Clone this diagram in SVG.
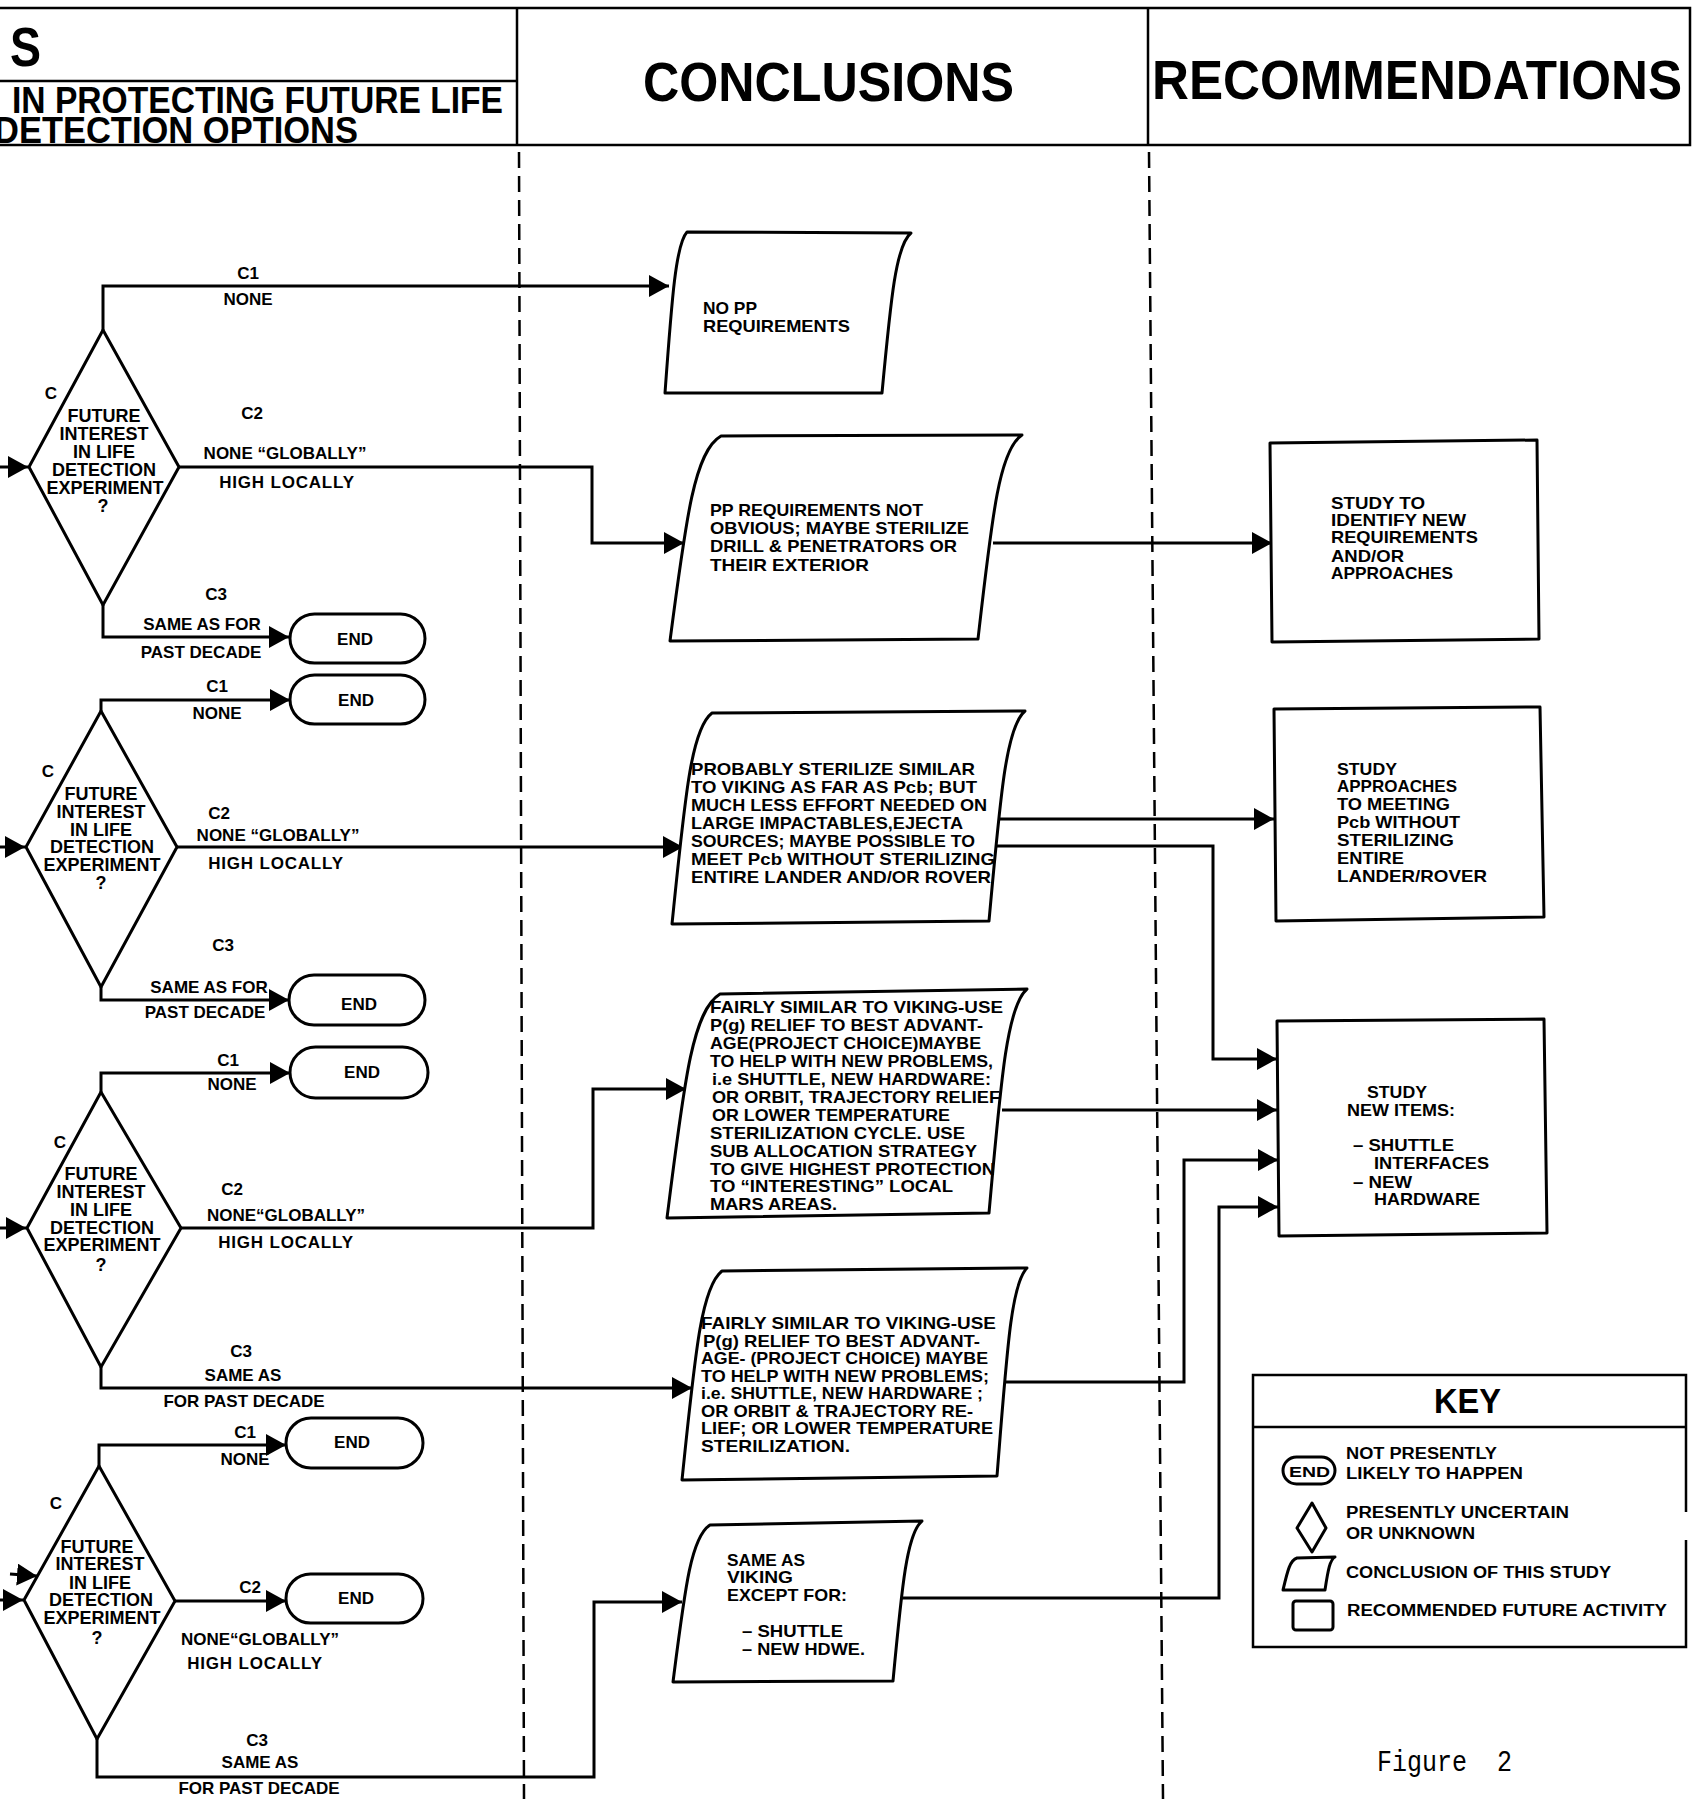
<svg xmlns="http://www.w3.org/2000/svg" width="1696" height="1799" viewBox="0 0 1696 1799">
<defs>
<marker id="ah" markerUnits="userSpaceOnUse" markerWidth="20" markerHeight="22" refX="20" refY="11" orient="auto">
<path d="M0,0 L20,11 L0,22 Z" fill="#000"/>
</marker>
<style>
text{font-family:"Liberation Sans",Arial,sans-serif;font-weight:bold;fill:#000}
.hd{font-size:56px}
.sub{font-size:37px}
.dm{font-size:18px;text-anchor:middle}
.lb{font-size:17px;text-anchor:middle}
.bx{font-size:17px}
.ky{font-size:16px}
.end{font-size:17px;text-anchor:middle}
.shape{fill:#fff;stroke:#000;stroke-width:3;stroke-linejoin:round}
.conn{fill:none;stroke:#000;stroke-width:3;stroke-linejoin:miter}
.frame{fill:none;stroke:#000;stroke-width:2.5}
.dash{fill:none;stroke:#000;stroke-width:2.5;stroke-dasharray:16 8}
.fig{font-family:"Liberation Mono","Courier New",monospace;font-weight:normal;font-size:30px}
</style>
</defs>
<rect width="1696" height="1799" fill="#fff"/>

<g id="header">
<path class="frame" d="M0,8 H1690 V145 H0 M517,8 V145 M1148,8 V145 M0,81 H517"/>
<text class="hd" x="10" y="66" font-size="60" textLength="31" lengthAdjust="spacingAndGlyphs">S</text>
<text class="sub" x="12" y="113" textLength="491" lengthAdjust="spacingAndGlyphs">IN PROTECTING FUTURE LIFE</text>
<text class="sub" x="-6" y="143" textLength="364" lengthAdjust="spacingAndGlyphs">DETECTION OPTIONS</text>
<text class="hd" x="643" y="101" textLength="371" lengthAdjust="spacingAndGlyphs">CONCLUSIONS</text>
<text class="hd" x="1152" y="99" textLength="530" lengthAdjust="spacingAndGlyphs">RECOMMENDATIONS</text>
</g>

<g id="columns">
<path class="dash" d="M519,152 L524,1799"/>
<path class="dash" d="M1149,152 L1163,1799"/>
</g>

<g id="connectors">
<path class="conn" d="M0,467 H28" marker-end="url(#ah)"/>
<path class="conn" d="M0,847 H25" marker-end="url(#ah)"/>
<path class="conn" d="M0,1228 H26" marker-end="url(#ah)"/>
<path class="conn" d="M0,1600 H23" marker-end="url(#ah)"/>
<path class="conn" d="M10,1574 L37,1576" marker-end="url(#ah)"/>

<path class="conn" d="M103,330 V286 H669" marker-end="url(#ah)"/>
<path class="conn" d="M179,467 H592 V543 H684" marker-end="url(#ah)"/>
<path class="conn" d="M103,605 V637 H289" marker-end="url(#ah)"/>

<path class="conn" d="M101,711 V700 H290" marker-end="url(#ah)"/>
<path class="conn" d="M177,847 H683" marker-end="url(#ah)"/>
<path class="conn" d="M101,987 V1000 H289" marker-end="url(#ah)"/>

<path class="conn" d="M101,1092 V1073 H290" marker-end="url(#ah)"/>
<path class="conn" d="M181,1228 H593 V1089 H686" marker-end="url(#ah)"/>
<path class="conn" d="M101,1367 V1388 H692" marker-end="url(#ah)"/>

<path class="conn" d="M99,1466 V1445 H286" marker-end="url(#ah)"/>
<path class="conn" d="M175,1601 H286" marker-end="url(#ah)"/>
<path class="conn" d="M97,1739 V1777 H594 V1602 H682" marker-end="url(#ah)"/>

<path class="conn" d="M993,543 H1272" marker-end="url(#ah)"/>
<path class="conn" d="M997,819 H1274" marker-end="url(#ah)"/>
<path class="conn" d="M997,846 H1213 V1059 H1277" marker-end="url(#ah)"/>
<path class="conn" d="M1002,1110 H1277" marker-end="url(#ah)"/>
<path class="conn" d="M1004,1382 H1184 V1160 H1278" marker-end="url(#ah)"/>
<path class="conn" d="M902,1598 H1219 V1207 H1278" marker-end="url(#ah)"/>
</g>

<g id="decision1">
<polygon class="shape" points="103,330 179,467 103,605 29,467"/>
<text class="lb" x="51" y="399">C</text>
<text class="dm" x="104" y="422">FUTURE</text>
<text class="dm" x="104" y="440">INTEREST</text>
<text class="dm" x="104" y="458">IN LIFE</text>
<text class="dm" x="104" y="476">DETECTION</text>
<text class="dm" x="105" y="494">EXPERIMENT</text>
<text class="dm" x="103" y="512">?</text>
<text class="lb" x="248" y="279">C1</text>
<text class="lb" x="248" y="305">NONE</text>
<text class="lb" x="252" y="419">C2</text>
<text class="lb" x="285" y="459">NONE “GLOBALLY”</text>
<text class="lb" x="287" y="488" letter-spacing="0.8">HIGH LOCALLY</text>
<text class="lb" x="216" y="600">C3</text>
<text class="lb" x="202" y="630">SAME AS FOR</text>
<text class="lb" x="201" y="658">PAST DECADE</text>
</g>

<g id="decision2">
<polygon class="shape" points="101,711 177,847 101,987 26,847"/>
<text class="lb" x="48" y="777">C</text>
<text class="dm" x="101" y="800">FUTURE</text>
<text class="dm" x="101" y="818">INTEREST</text>
<text class="dm" x="101" y="836">IN LIFE</text>
<text class="dm" x="102" y="853">DETECTION</text>
<text class="dm" x="102" y="871">EXPERIMENT</text>
<text class="dm" x="101" y="889">?</text>
<text class="lb" x="217" y="692">C1</text>
<text class="lb" x="217" y="719">NONE</text>
<text class="lb" x="219" y="819">C2</text>
<text class="lb" x="278" y="841">NONE “GLOBALLY”</text>
<text class="lb" x="276" y="869" letter-spacing="0.8">HIGH LOCALLY</text>
<text class="lb" x="223" y="951">C3</text>
<text class="lb" x="209" y="993">SAME AS FOR</text>
<text class="lb" x="205" y="1018">PAST DECADE</text>
</g>

<g id="decision3">
<polygon class="shape" points="101,1092 181,1228 101,1367 27,1228"/>
<text class="lb" x="60" y="1148">C</text>
<text class="dm" x="101" y="1180">FUTURE</text>
<text class="dm" x="101" y="1198">INTEREST</text>
<text class="dm" x="101" y="1216">IN LIFE</text>
<text class="dm" x="102" y="1234">DETECTION</text>
<text class="dm" x="102" y="1251">EXPERIMENT</text>
<text class="dm" x="101" y="1271">?</text>
<text class="lb" x="228" y="1066">C1</text>
<text class="lb" x="232" y="1090">NONE</text>
<text class="lb" x="232" y="1195">C2</text>
<text class="lb" x="286" y="1221">NONE“GLOBALLY”</text>
<text class="lb" x="286" y="1248" letter-spacing="0.8">HIGH LOCALLY</text>
<text class="lb" x="241" y="1357">C3</text>
<text class="lb" x="243" y="1381">SAME AS</text>
<text class="lb" x="244" y="1407">FOR PAST DECADE</text>
</g>

<g id="decision4">
<polygon class="shape" points="99,1466 175,1601 97,1739 24,1600"/>
<text class="lb" x="56" y="1509">C</text>
<text class="dm" x="97" y="1553">FUTURE</text>
<text class="dm" x="100" y="1570">INTEREST</text>
<text class="dm" x="100" y="1589">IN LIFE</text>
<text class="dm" x="101" y="1606">DETECTION</text>
<text class="dm" x="102" y="1624">EXPERIMENT</text>
<text class="dm" x="97" y="1644">?</text>
<text class="lb" x="245" y="1438">C1</text>
<text class="lb" x="245" y="1465">NONE</text>
<text class="lb" x="250" y="1593">C2</text>
<text class="lb" x="260" y="1645">NONE“GLOBALLY”</text>
<text class="lb" x="255" y="1669" letter-spacing="0.8">HIGH LOCALLY</text>
<text class="lb" x="257" y="1746">C3</text>
<text class="lb" x="260" y="1768">SAME AS</text>
<text class="lb" x="259" y="1794">FOR PAST DECADE</text>
</g>

<g id="end1"><rect class="shape" x="290" y="614" width="135" height="49" rx="24.5"/><text class="end" x="355" y="645">END</text></g>
<g id="end2"><rect class="shape" x="290" y="675" width="135" height="49" rx="24.5"/><text class="end" x="356" y="706">END</text></g>
<g id="end3"><rect class="shape" x="289" y="975" width="136" height="50" rx="25"/><text class="end" x="359" y="1010">END</text></g>
<g id="end4"><rect class="shape" x="290" y="1047" width="138" height="51" rx="25.5"/><text class="end" x="362" y="1078">END</text></g>
<g id="end5"><rect class="shape" x="286" y="1418" width="137" height="50" rx="25"/><text class="end" x="352" y="1448">END</text></g>
<g id="end6"><rect class="shape" x="286" y="1574" width="137" height="49" rx="24.5"/><text class="end" x="356" y="1604">END</text></g>

<g id="conclusionA">
<path class="shape" d="M665,393 C672,296 676,244 687,232 L911,233 C896,245 891,297 882,393 Z"/>
<text class="bx" x="703" y="314" textLength="54" lengthAdjust="spacingAndGlyphs">NO PP</text>
<text class="bx" x="703" y="332" textLength="147" lengthAdjust="spacingAndGlyphs">REQUIREMENTS</text>
</g>

<g id="conclusionB">
<path class="shape" d="M670,641 C686,518 694.5,451 721,436 L1022,435 C999,450 992,517 978,639 Z"/>
<text class="bx" x="710" y="516" textLength="213" lengthAdjust="spacingAndGlyphs">PP REQUIREMENTS NOT</text>
<text class="bx" x="710" y="534" textLength="259" lengthAdjust="spacingAndGlyphs">OBVIOUS; MAYBE STERILIZE</text>
<text class="bx" x="710" y="552" textLength="247" lengthAdjust="spacingAndGlyphs">DRILL &amp; PENETRATORS OR</text>
<text class="bx" x="710" y="571" textLength="159" lengthAdjust="spacingAndGlyphs">THEIR EXTERIOR</text>
</g>

<g id="conclusionC">
<path class="shape" d="M672,924 C685,797 691,729 712,713 L1025,711 C1006,727 1000.5,795 989,921 Z"/>
<text class="bx" x="691" y="775" textLength="284" lengthAdjust="spacingAndGlyphs">PROBABLY STERILIZE SIMILAR</text>
<text class="bx" x="691" y="793" textLength="286" lengthAdjust="spacingAndGlyphs">TO VIKING AS FAR AS Pcb; BUT</text>
<text class="bx" x="691" y="811" textLength="296" lengthAdjust="spacingAndGlyphs">MUCH LESS EFFORT NEEDED ON</text>
<text class="bx" x="691" y="829" textLength="272" lengthAdjust="spacingAndGlyphs">LARGE IMPACTABLES,EJECTA</text>
<text class="bx" x="691" y="847" textLength="284" lengthAdjust="spacingAndGlyphs">SOURCES; MAYBE POSSIBLE TO</text>
<text class="bx" x="691" y="865" textLength="304" lengthAdjust="spacingAndGlyphs">MEET Pcb WITHOUT STERILIZING</text>
<text class="bx" x="691" y="883" textLength="300" lengthAdjust="spacingAndGlyphs">ENTIRE LANDER AND/OR ROVER</text>
</g>

<g id="conclusionD">
<path class="shape" d="M667,1218 C684,1084 692,1011 720,994 L1027,989 C1007,1006 1001,1079 989,1213 Z"/>
<text class="bx" x="710" y="1013" textLength="293" lengthAdjust="spacingAndGlyphs">FAIRLY SIMILAR TO VIKING-USE</text>
<text class="bx" x="710" y="1031" textLength="273" lengthAdjust="spacingAndGlyphs">P(g) RELIEF TO BEST ADVANT-</text>
<text class="bx" x="710" y="1049" textLength="271" lengthAdjust="spacingAndGlyphs">AGE(PROJECT CHOICE)MAYBE</text>
<text class="bx" x="710" y="1067" textLength="283" lengthAdjust="spacingAndGlyphs">TO HELP WITH NEW PROBLEMS,</text>
<text class="bx" x="712" y="1085" textLength="279" lengthAdjust="spacingAndGlyphs">i.e SHUTTLE, NEW HARDWARE:</text>
<text class="bx" x="712" y="1103" textLength="288" lengthAdjust="spacingAndGlyphs">OR ORBIT, TRAJECTORY RELIEF</text>
<text class="bx" x="712" y="1121" textLength="238" lengthAdjust="spacingAndGlyphs">OR LOWER TEMPERATURE</text>
<text class="bx" x="710" y="1139" textLength="255" lengthAdjust="spacingAndGlyphs">STERILIZATION CYCLE. USE</text>
<text class="bx" x="710" y="1157" textLength="267" lengthAdjust="spacingAndGlyphs">SUB ALLOCATION STRATEGY</text>
<text class="bx" x="710" y="1175" textLength="285" lengthAdjust="spacingAndGlyphs">TO GIVE HIGHEST PROTECTION</text>
<text class="bx" x="710" y="1192" textLength="243" lengthAdjust="spacingAndGlyphs">TO “INTERESTING” LOCAL</text>
<text class="bx" x="710" y="1210" textLength="127" lengthAdjust="spacingAndGlyphs">MARS AREAS.</text>
</g>

<g id="conclusionE">
<path class="shape" d="M682,1480 C695,1355 701,1287 722,1271 L1027,1268 C1011,1284 1007,1351 997,1476 Z"/>
<text class="bx" x="701" y="1329" textLength="295" lengthAdjust="spacingAndGlyphs">FAIRLY SIMILAR TO VIKING-USE</text>
<text class="bx" x="703" y="1346.5" textLength="277" lengthAdjust="spacingAndGlyphs">P(g) RELIEF TO BEST ADVANT-</text>
<text class="bx" x="701" y="1364" textLength="287" lengthAdjust="spacingAndGlyphs">AGE- (PROJECT CHOICE) MAYBE</text>
<text class="bx" x="701" y="1381.5" textLength="288" lengthAdjust="spacingAndGlyphs">TO HELP WITH NEW PROBLEMS;</text>
<text class="bx" x="701" y="1399" textLength="282" lengthAdjust="spacingAndGlyphs">i.e. SHUTTLE, NEW HARDWARE ;</text>
<text class="bx" x="701" y="1416.5" textLength="272" lengthAdjust="spacingAndGlyphs">OR ORBIT &amp; TRAJECTORY RE-</text>
<text class="bx" x="701" y="1434" textLength="292" lengthAdjust="spacingAndGlyphs">LIEF; OR LOWER TEMPERATURE</text>
<text class="bx" x="701" y="1451.5" textLength="149" lengthAdjust="spacingAndGlyphs">STERILIZATION.</text>
</g>

<g id="conclusionF">
<path class="shape" d="M673,1682 C685,1588 691,1537 710,1525 L922,1521 C907,1533 902,1585 893,1681 Z"/>
<text class="bx" x="727" y="1566" textLength="78" lengthAdjust="spacingAndGlyphs">SAME AS</text>
<text class="bx" x="727" y="1583" textLength="66" lengthAdjust="spacingAndGlyphs">VIKING</text>
<text class="bx" x="727" y="1601" textLength="120" lengthAdjust="spacingAndGlyphs">EXCEPT FOR:</text>
<text class="bx" x="742" y="1637" textLength="101" lengthAdjust="spacingAndGlyphs">– SHUTTLE</text>
<text class="bx" x="742" y="1655" textLength="123" lengthAdjust="spacingAndGlyphs">– NEW HDWE.</text>
</g>

<g id="recommendation1">
<polygon class="shape" points="1270,443 1537,440 1539,639 1272,642"/>
<text class="bx" x="1331" y="509" textLength="94" lengthAdjust="spacingAndGlyphs">STUDY TO</text>
<text class="bx" x="1331" y="526" textLength="135" lengthAdjust="spacingAndGlyphs">IDENTIFY NEW</text>
<text class="bx" x="1331" y="543" textLength="147" lengthAdjust="spacingAndGlyphs">REQUIREMENTS</text>
<text class="bx" x="1331" y="562" textLength="73" lengthAdjust="spacingAndGlyphs">AND/OR</text>
<text class="bx" x="1331" y="579" textLength="122" lengthAdjust="spacingAndGlyphs">APPROACHES</text>
</g>

<g id="recommendation2">
<polygon class="shape" points="1274,709 1540,707 1544,917 1276,921"/>
<text class="bx" x="1337" y="775" textLength="60" lengthAdjust="spacingAndGlyphs">STUDY</text>
<text class="bx" x="1337" y="792" textLength="120" lengthAdjust="spacingAndGlyphs">APPROACHES</text>
<text class="bx" x="1337" y="810" textLength="113" lengthAdjust="spacingAndGlyphs">TO MEETING</text>
<text class="bx" x="1337" y="828" textLength="123" lengthAdjust="spacingAndGlyphs">Pcb WITHOUT</text>
<text class="bx" x="1337" y="846" textLength="117" lengthAdjust="spacingAndGlyphs">STERILIZING</text>
<text class="bx" x="1337" y="864" textLength="67" lengthAdjust="spacingAndGlyphs">ENTIRE</text>
<text class="bx" x="1337" y="882" textLength="150" lengthAdjust="spacingAndGlyphs">LANDER/ROVER</text>
</g>

<g id="recommendation3">
<polygon class="shape" points="1277,1021 1544,1019 1547,1233 1279,1236"/>
<text class="bx" x="1367" y="1098" textLength="60" lengthAdjust="spacingAndGlyphs">STUDY</text>
<text class="bx" x="1347" y="1116" textLength="108" lengthAdjust="spacingAndGlyphs">NEW ITEMS:</text>
<text class="bx" x="1353" y="1151" textLength="101" lengthAdjust="spacingAndGlyphs">– SHUTTLE</text>
<text class="bx" x="1374" y="1169" textLength="115" lengthAdjust="spacingAndGlyphs">INTERFACES</text>
<text class="bx" x="1353" y="1188" textLength="59" lengthAdjust="spacingAndGlyphs">– NEW</text>
<text class="bx" x="1374" y="1205" textLength="106" lengthAdjust="spacingAndGlyphs">HARDWARE</text>
</g>

<g id="key">
<path fill="#fff" stroke="none" d="M1253,1375 H1686 V1647 H1253 Z"/>
<path class="frame" stroke-width="3" d="M1686,1512 V1375 H1253 V1647 H1686 V1540 M1253,1427 H1686"/>
<text x="1434" y="1413" font-size="35" textLength="67" lengthAdjust="spacingAndGlyphs">KEY</text>
<rect class="shape" x="1283" y="1457" width="52" height="27" rx="13.5"/>
<text x="1289" y="1477" font-size="15" textLength="41" lengthAdjust="spacingAndGlyphs">END</text>
<text class="ky" x="1346" y="1459" textLength="151" lengthAdjust="spacingAndGlyphs">NOT PRESENTLY</text>
<text class="ky" x="1346" y="1479" textLength="177" lengthAdjust="spacingAndGlyphs">LIKELY TO HAPPEN</text>
<polygon class="shape" points="1312,1503 1326,1528 1312,1552 1297,1528"/>
<text class="ky" x="1346" y="1518" textLength="223" lengthAdjust="spacingAndGlyphs">PRESENTLY UNCERTAIN</text>
<text class="ky" x="1346" y="1539" textLength="129" lengthAdjust="spacingAndGlyphs">OR UNKNOWN</text>
<path class="shape" d="M1283,1590 C1287.5,1571 1290,1560 1297,1558 L1335,1557 C1330,1559.5 1328,1570 1325,1590 Z"/>
<text class="ky" x="1346" y="1578" textLength="265" lengthAdjust="spacingAndGlyphs">CONCLUSION OF THIS STUDY</text>
<rect class="shape" x="1293" y="1601" width="40" height="29" rx="3"/>
<text class="ky" x="1347" y="1616" textLength="320" lengthAdjust="spacingAndGlyphs">RECOMMENDED FUTURE ACTIVITY</text>
</g>

<g id="caption">
<text class="fig" x="1377" y="1771" textLength="135" lengthAdjust="spacingAndGlyphs" xml:space="preserve">Figure  2</text>
</g>
</svg>
